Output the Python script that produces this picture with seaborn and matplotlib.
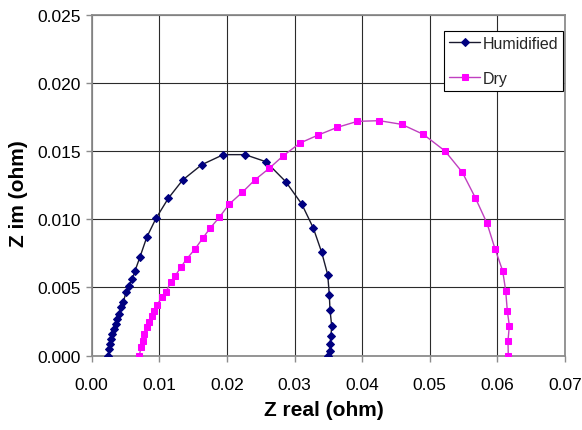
import matplotlib
matplotlib.use("Agg")
import matplotlib.pyplot as plt
import seaborn as sns
import pandas as pd
from matplotlib.ticker import FixedLocator, FormatStrFormatter

# ---- data ----
hum_x = [0.00246, 0.00256, 0.00271, 0.00286, 0.00305, 0.00330, 0.00355, 0.00379,
         0.00404, 0.00433, 0.00467, 0.00507, 0.00552, 0.00601, 0.00641, 0.00714,
         0.00814, 0.00951, 0.01133, 0.01346, 0.01627, 0.01947, 0.02268, 0.02578,
         0.02870, 0.03107, 0.03278, 0.03402, 0.03491, 0.03515, 0.03525, 0.03550,
         0.03540, 0.03525, 0.03525, 0.03500]
hum_y = [0.00000, 0.00049, 0.00086, 0.00122, 0.00159, 0.00196, 0.00232, 0.00269,
         0.00306, 0.00355, 0.00392, 0.00465, 0.00513, 0.00562, 0.00623, 0.00724,
         0.00868, 0.01007, 0.01154, 0.01288, 0.01400, 0.01474, 0.01474, 0.01422,
         0.01276, 0.01112, 0.00936, 0.00758, 0.00594, 0.00447, 0.00335, 0.00220,
         0.00147, 0.00086, 0.00037, 0.00000]

dry_x = [0.00704, 0.00729, 0.00754, 0.00778, 0.00814, 0.00848, 0.00888, 0.00926,
         0.00970, 0.01036, 0.01099, 0.01169, 0.01232, 0.01317, 0.01405, 0.01528,
         0.01642, 0.01750, 0.01888, 0.02036, 0.02228, 0.02416, 0.02627, 0.02834,
         0.03081, 0.03352, 0.03633, 0.03929, 0.04254, 0.04586, 0.04905, 0.05226,
         0.05482, 0.05675, 0.05848, 0.05966, 0.06080, 0.06124, 0.06148, 0.06178,
         0.06158, 0.06163]
dry_y = [0.00000, 0.00062, 0.00110, 0.00159, 0.00208, 0.00249, 0.00293, 0.00330,
         0.00374, 0.00428, 0.00469, 0.00538, 0.00582, 0.00648, 0.00709, 0.00782,
         0.00861, 0.00934, 0.01015, 0.01112, 0.01198, 0.01290, 0.01374, 0.01466,
         0.01559, 0.01618, 0.01674, 0.01718, 0.01723, 0.01696, 0.01623, 0.01501,
         0.01345, 0.01158, 0.00971, 0.00784, 0.00621, 0.00477, 0.00330, 0.00220,
         0.00106, 0.00000]

series_names = ["Humidified", "Dry"]
x_ticks = [0.00, 0.01, 0.02, 0.03, 0.04, 0.05, 0.06, 0.07]
y_ticks = [0.000, 0.005, 0.010, 0.015, 0.020, 0.025]
x_label = "Z real (ohm)"
y_label = "Z im (ohm)"

sns.set_theme(style="white")
plt.rcParams["font.family"] = ["Liberation Sans", "DejaVu Sans"]

fig = plt.figure(figsize=(5.82, 4.31), dpi=100)
ax = fig.add_axes([0.1576, 0.1724, 0.8130, 0.7912])

df_h = pd.DataFrame({"x": hum_x, "y": hum_y})
df_d = pd.DataFrame({"x": dry_x, "y": dry_y})

sns.lineplot(data=df_h, x="x", y="y", ax=ax, sort=False, estimator=None,
             color="#1a1a2e", linewidth=1.0, marker="D", markersize=4.2,
             markerfacecolor="#000080", markeredgecolor="#000080",
             label=series_names[0], zorder=3)
sns.lineplot(data=df_d, x="x", y="y", ax=ax, sort=False, estimator=None,
             color="#c040c0", linewidth=1.0, marker="s", markersize=4.6,
             markerfacecolor="#ff00ff", markeredgecolor="#ff00ff",
             label=series_names[1], zorder=3)

ax.set_xlim(0, 0.07)
ax.set_ylim(0, 0.025)
ax.xaxis.set_major_locator(FixedLocator(x_ticks))
ax.yaxis.set_major_locator(FixedLocator(y_ticks))
ax.xaxis.set_major_formatter(FormatStrFormatter("%.2f"))
ax.yaxis.set_major_formatter(FormatStrFormatter("%.3f"))

ax.grid(True, color="#2b2b2b", linewidth=0.8, zorder=1)
ax.set_axisbelow(True)
for s in ax.spines.values():
    s.set_visible(True)
    s.set_color("#8c8c8c")
    s.set_linewidth(1.3)

ax.tick_params(axis="both", which="major", direction="out", length=4,
               width=1.0, color="#8c8c8c", labelsize=12.5, labelcolor="black",
               bottom=True, left=True)
ax.tick_params(axis="x", pad=11)
ax.tick_params(axis="y", pad=4)

ax.set_xlabel(x_label, fontsize=15, fontweight="bold", color="black")
ax.set_ylabel(y_label, fontsize=15, fontweight="bold", color="black")
ax.xaxis.set_label_coords(0.49, -0.13)
ax.yaxis.set_label_coords(-0.134, 0.477)

leg = ax.legend(loc="upper left", bbox_to_anchor=(444 / 582, 1 - 31.7 / 431),
                bbox_transform=fig.transFigure, frameon=True, fancybox=False,
                fontsize=11.5, handlelength=1.95, handletextpad=0.15,
                labelspacing=1.25, borderpad=0.32, borderaxespad=0)
leg.get_frame().set_edgecolor("black")
leg.get_frame().set_linewidth(0.8)
leg.get_frame().set_facecolor("white")
leg.get_frame().set_alpha(1)

fig.savefig("out.png", dpi=100)
